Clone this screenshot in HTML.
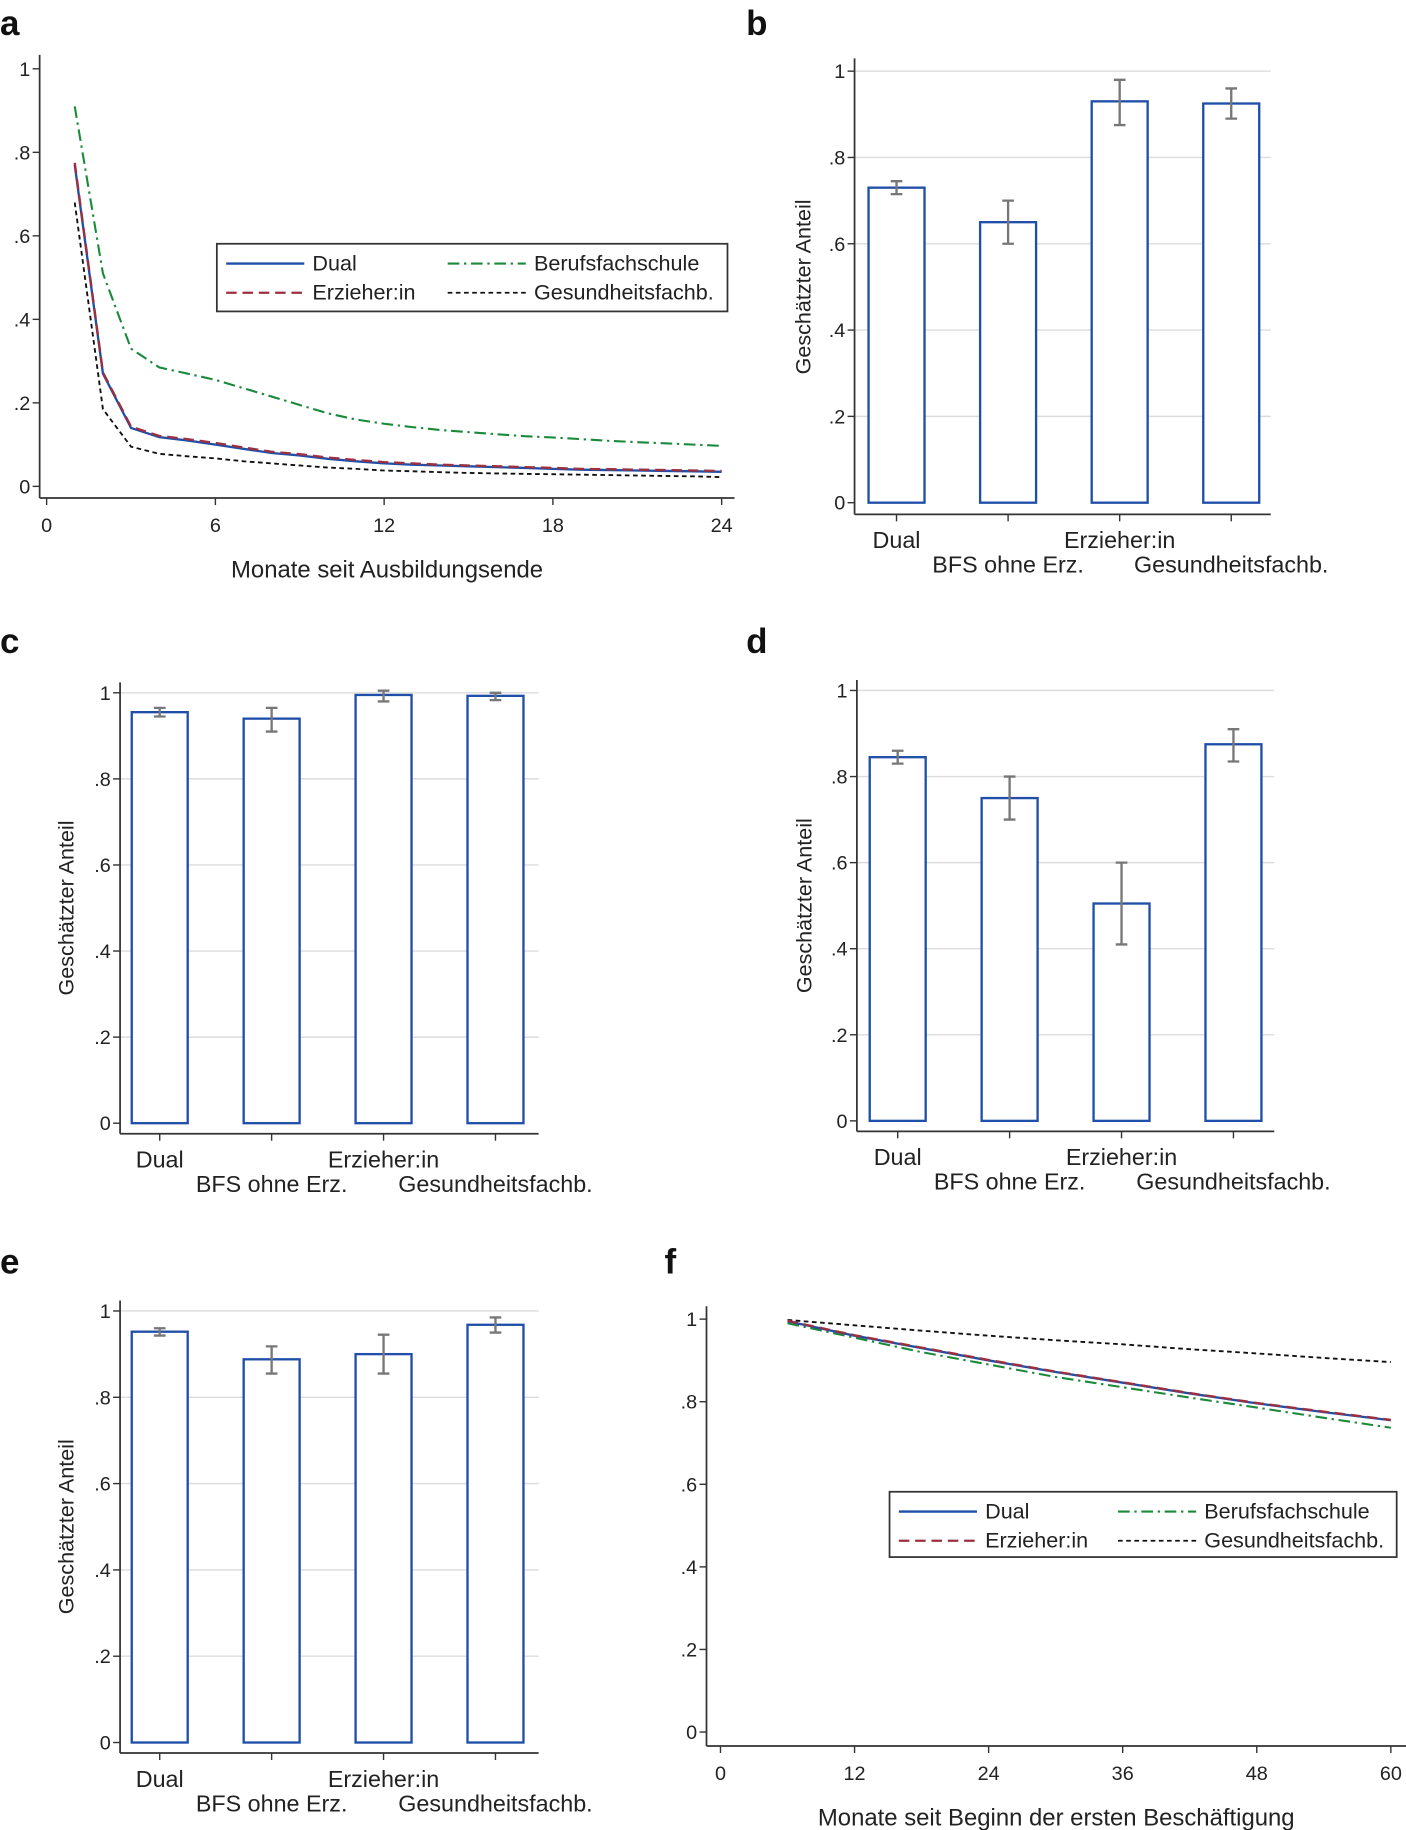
<!DOCTYPE html>
<html><head><meta charset="utf-8"><style>
html,body{margin:0;padding:0;background:#fff}
svg{display:block;font-family:"Liberation Sans",sans-serif}
</style></head><body>
<svg id="fig" width="1406" height="1830" viewBox="0 0 1206 1569" preserveAspectRatio="none" xmlns="http://www.w3.org/2000/svg"></svg>
<script>
// ---- data ----
const monthsA = [1,2,3,4,5,6,7,8,9,10,11,12,13,14,15,16,17,18,19,20,21,22,23,24];
const dualA = [0.77,0.27,0.14,0.118,0.11,0.10,0.09,0.08,0.074,0.066,0.06,0.055,0.052,0.05,0.048,0.046,0.044,0.042,0.04,0.039,0.038,0.037,0.036,0.035];
const erzA = [0.775,0.273,0.143,0.121,0.113,0.104,0.093,0.083,0.077,0.069,0.063,0.058,0.055,0.052,0.05,0.048,0.046,0.044,0.042,0.041,0.04,0.039,0.038,0.037];
const berufA = [0.91,0.51,0.33,0.285,0.27,0.255,0.235,0.215,0.195,0.175,0.16,0.15,0.142,0.135,0.13,0.125,0.12,0.117,0.113,0.109,0.106,0.103,0.1,0.097];
const gesA = [0.68,0.185,0.095,0.078,0.072,0.067,0.06,0.055,0.05,0.045,0.042,0.038,0.036,0.034,0.032,0.031,0.03,0.029,0.028,0.027,0.026,0.025,0.024,0.022];
const ticksA = [0,6,12,18,24];
const yTicks = [0,0.2,0.4,0.6,0.8,1];
const yTickLabels = ["0",".2",".4",".6",".8","1"];
const categories = ["Dual","BFS ohne Erz.","Erzieher:in","Gesundheitsfachb."];
const valsB = [0.73,0.65,0.93,0.925]; const loB=[0.715,0.60,0.875,0.89]; const hiB=[0.745,0.70,0.98,0.96];
const valsC = [0.955,0.94,0.995,0.993]; const loC=[0.945,0.91,0.98,0.983]; const hiC=[0.965,0.965,1.005,1.0];
const valsD = [0.845,0.75,0.505,0.875]; const loD=[0.83,0.70,0.41,0.835]; const hiD=[0.86,0.80,0.60,0.91];
const valsE = [0.952,0.888,0.90,0.968]; const loE=[0.943,0.855,0.855,0.95]; const hiE=[0.96,0.918,0.945,0.985];
const monthsF = [6,12,18,24,30,36,42,48,54,60];
const dualF = [0.995,0.96,0.93,0.90,0.872,0.846,0.82,0.796,0.775,0.755];
const erzF = [0.996,0.961,0.931,0.901,0.873,0.847,0.821,0.797,0.776,0.756];
const berufF = [0.99,0.955,0.92,0.89,0.86,0.835,0.81,0.786,0.761,0.737];
const gesF = [0.998,0.985,0.972,0.96,0.949,0.939,0.927,0.917,0.906,0.896];
const ticksF = [0,12,24,36,48,60];

const NS="http://www.w3.org/2000/svg";
const svg=document.getElementById('fig');
function mk(tag,attrs,parent){const e=document.createElementNS(NS,tag);for(const k in attrs)e.setAttribute(k,attrs[k]);(parent||svg).appendChild(e);return e;}
function txt(x,y,s,size,anchor,parent,extra){const t=mk('text',Object.assign({x:x,y:y,'font-size':size,'text-anchor':anchor||'start',fill:'#222'},extra||{}),parent);t.textContent=s;return t;}

const styles={
 dual:{stroke:'#1f4fa8','stroke-width':2,'stroke-dasharray':'none'},
 erz:{stroke:'#9a3040','stroke-width':2,'stroke-dasharray':'9 5'},
 beruf:{stroke:'#1a8a3a','stroke-width':1.8,'stroke-dasharray':'10 4 2 4'},
 ges:{stroke:'#111','stroke-width':1.6,'stroke-dasharray':'4 3'}
};

function letter(x,y,s){const t=txt(x,y,s,30,'start',svg,{'font-weight':'bold',fill:'#111'});

}

function lineChart(id,cfg){
 const g=mk('g',{});
 
 
 const sx=v=>cfg.x0+(v-cfg.xmin)/(cfg.xmax-cfg.xmin)*(cfg.x1-cfg.x0);
 const sy=v=>cfg.y0-v*(cfg.y0-cfg.y1);
 const ya=mk('line',{x1:cfg.ax,y1:cfg.axTop,x2:cfg.ax,y2:cfg.axY,stroke:'#333','stroke-width':1.5},g);
 
 
 const xa=mk('line',{x1:cfg.ax,y1:cfg.axY,x2:cfg.axRight,y2:cfg.axY,stroke:'#333','stroke-width':1.5},g);
 
 
 yTicks.forEach((v,i)=>{mk('line',{x1:cfg.ax-6,x2:cfg.ax,y1:sy(v),y2:sy(v),stroke:'#333','stroke-width':1.2},g);
  const t=txt(cfg.ax-8,sy(v)+6,yTickLabels[i],17,'end',g);
  
  });
 cfg.xticks.forEach(v=>{mk('line',{x1:sx(v),x2:sx(v),y1:cfg.axY,y2:cfg.axY+6,stroke:'#333','stroke-width':1.2},g);
  const t=txt(sx(v),cfg.axY+29,String(v),17,'middle',g);
  
  });
 const xt=txt((cfg.ax+cfg.axRight)/2,cfg.axY+68,cfg.xtitle,20.5,'middle',g);
 
 
 cfg.series.forEach(s=>{
  const d=cfg.xs.map((m,i)=>(i?'L':'M')+sx(m).toFixed(1)+' '+sy(s.v[i]).toFixed(1)).join(' ');
  const p=mk('path',Object.assign({d:d,fill:'none'},styles[s.k]),g);
  
  
 });
 const L=cfg.leg;
 const lg=mk('g',{},g);
 
 
 mk('rect',{x:L.x,y:L.y,width:L.w,height:L.h,fill:'#fff',stroke:'#333','stroke-width':1.5},lg);
 const ent=[['dual','Dual',0,0],['beruf','Berufsfachschule',1,0],['erz','Erzieher:in',0,1],['ges','Gesundheitsfachb.',1,1]];
 ent.forEach(e=>{const ex=L.x+8+e[2]*L.col, ey=L.y+17+e[3]*25;
  const eg=mk('g',{},lg);
  
  
  mk('line',Object.assign({x1:ex,x2:ex+67,y1:ey,y2:ey},styles[e[0]]),eg);
  txt(ex+74,ey+6,e[1],18.5,'start',eg);});
}

function barChart(id,cfg){
 const g=mk('g',{});
 
 
 const sy=v=>cfg.y0-v*(cfg.y0-cfg.y1);
 const cx=i=>cfg.c0+i*cfg.step;
 yTicks.forEach((v,i)=>{
  if(v>0){const gl=mk('line',{x1:cfg.ax,x2:cfg.axRight,y1:sy(v),y2:sy(v),stroke:'#dcdcdc','stroke-width':1.2},g);
   
   }
  mk('line',{x1:cfg.ax-6,x2:cfg.ax,y1:sy(v),y2:sy(v),stroke:'#333','stroke-width':1.2},g);
  const t=txt(cfg.ax-8,sy(v)+6,yTickLabels[i],17,'end',g);
  
  });
 const ya=mk('line',{x1:cfg.ax,y1:cfg.axTop,x2:cfg.ax,y2:cfg.axY,stroke:'#333','stroke-width':1.5},g);
 
 
 const xa=mk('line',{x1:cfg.ax,y1:cfg.axY,x2:cfg.axRight,y2:cfg.axY,stroke:'#333','stroke-width':1.5},g);
 
 
 const yt=txt(0,0,'Geschätzter Anteil',18.5,'middle',g,{transform:'translate('+cfg.titleX+','+((cfg.y0+cfg.y1)/2)+') rotate(-90)'});
 
 
 categories.forEach((c,i)=>{
  const x=cx(i);
  const b=mk('rect',{x:x-24,y:sy(cfg.v[i]),width:48,height:sy(0)-sy(cfg.v[i]),fill:'#fff',stroke:'#1f4fa8','stroke-width':2},g);
  
  
  const eb=mk('path',{d:`M${x-5} ${sy(cfg.hi[i])}H${x+5}M${x} ${sy(cfg.hi[i])}V${sy(cfg.lo[i])}M${x-5} ${sy(cfg.lo[i])}H${x+5}`,stroke:'#777','stroke-width':2,fill:'none'},g);
  
  
  mk('line',{x1:x,x2:x,y1:cfg.axY,y2:cfg.axY+6,stroke:'#333','stroke-width':1.2},g);
  const t=txt(x,cfg.axY+(i%2?50:29),c,20,'middle',g);
  
  
 });
}

letter(0,30,'a');letter(640,30,'b');letter(0,560,'c');letter(640,560,'d');letter(0,1092,'e');letter(570,1092,'f');

lineChart('panel-a-chart',{x0:40,x1:619,xmin:0,xmax:24,y0:417,y1:59,ax:34,axTop:47,axY:427,axRight:630,xticks:ticksA,xs:monthsA,
 xtitle:'Monate seit Ausbildungsende',
 series:[{k:'beruf',v:berufA},{k:'ges',v:gesA},{k:'dual',v:dualA},{k:'erz',v:erzA}],
 leg:{x:186,y:209,w:438,h:58,col:190}});
barChart('panel-b-chart',{ax:733,axRight:1090,axTop:50,axY:441,y0:431,y1:61,c0:769,step:95.7,titleX:695,v:valsB,lo:loB,hi:hiB});
barChart('panel-c-chart',{ax:103,axRight:462,axTop:585,axY:972,y0:963,y1:594,c0:137,step:96,titleX:63,v:valsC,lo:loC,hi:hiC});
barChart('panel-d-chart',{ax:735,axRight:1093,axTop:583,axY:970,y0:961,y1:592,c0:770,step:96,titleX:696,v:valsD,lo:loD,hi:hiD});
barChart('panel-e-chart',{ax:103,axRight:462,axTop:1115,axY:1503,y0:1494,y1:1124,c0:137,step:96,titleX:63,v:valsE,lo:loE,hi:hiE});
lineChart('panel-f-chart',{x0:618,x1:1193,xmin:0,xmax:60,y0:1485,y1:1131,ax:606,axTop:1120,axY:1497,axRight:1206,xticks:ticksF,xs:monthsF,
 xtitle:'Monate seit Beginn der ersten Beschäftigung',
 series:[{k:'ges',v:gesF},{k:'beruf',v:berufF},{k:'dual',v:dualF},{k:'erz',v:erzF}],
 leg:{x:763,y:1279,w:435,h:56,col:188}});
</script>
</body></html>
